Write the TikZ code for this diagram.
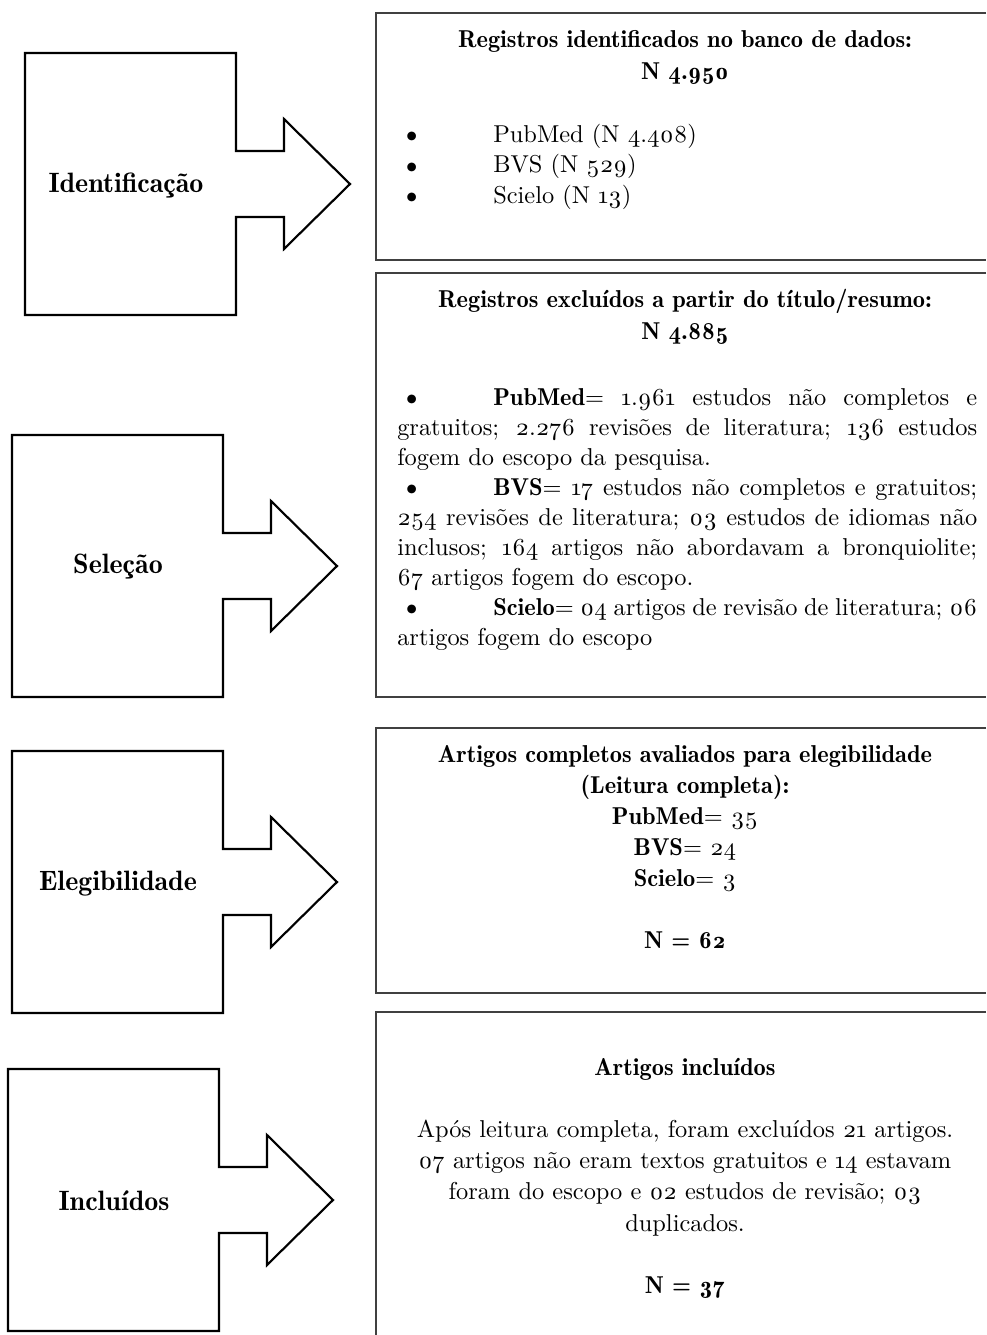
\documentclass[tikz,border=0pt]{standalone}
\usepackage{graphicx}
\usepackage{fontspec}
\setmainfont{lmroman10}[Extension=.otf, UprightFont=*-regular, BoldFont=lmromandemi10-regular, Numbers=OldStyle]

\newcommand{\boxtextfont}{\fontsize{18.3}{22.5}\selectfont\hyphenpenalty=10000\tolerance=10000}
\newcommand{\stagefont}{\fontsize{21}{25}\selectfont\bfseries}
\newcommand{\bulletbox}{\makebox[72pt][l]{\hspace{2pt}\smash{\raisebox{-0.06em}{\scalebox{1.25}{\textbullet}}}}}

\begin{document}
\begin{tikzpicture}[x=0.75pt, y=-0.75pt,
    stagearrow/.style={draw=black, line width=1.6pt},
    stagelabel/.style={font=\stagefont, inner sep=0pt},
    panel/.style={draw=black!75, line width=0.9pt},
    paneltext/.style={font=\boxtextfont, inner sep=0pt, text width=435pt}]

  \useasboundingbox (0,0) rectangle (986,1335);

  % Setas das etapas
  \draw[stagearrow] (25,53) -- (236,53) -- (236,151) -- (284,151) -- (284,119) -- (350,184)
    -- (284,249) -- (284,217) -- (236,217) -- (236,315) -- (25,315) -- cycle;
  \draw[stagearrow] (12,435) -- (223,435) -- (223,533) -- (271,533) -- (271,501) -- (337,566)
    -- (271,631) -- (271,599) -- (223,599) -- (223,697) -- (12,697) -- cycle;
  \draw[stagearrow] (12,751) -- (223,751) -- (223,849) -- (271,849) -- (271,817) -- (337,882)
    -- (271,947) -- (271,915) -- (223,915) -- (223,1013) -- (12,1013) -- cycle;
  \draw[stagearrow] (8,1069) -- (219,1069) -- (219,1167) -- (267,1167) -- (267,1135) -- (333,1200)
    -- (267,1265) -- (267,1233) -- (219,1233) -- (219,1331) -- (8,1331) -- cycle;

  \node[stagelabel] (ident) at (126,185) {Identificação};
  \node[stagelabel] (selec) at (118,567) {Seleção};
  \node[stagelabel] (eleg) at (118,884) {Elegibilidade};
  \node[stagelabel] (incl) at (114,1201) {Incluídos};

  % Quadros
  \draw[panel] (986,13) -- (376,13) -- (376,260) -- (986,260);
  \draw[panel] (986,273) -- (376,273) -- (376,697) -- (986,697);
  \draw[panel] (986,728) -- (376,728) -- (376,993) -- (986,993);
  \draw[panel] (986,1012) -- (376,1012) -- (376,1335);

  % Identificacao
  \node[paneltext, align=center, anchor=base] (idtitle) at (685,47)
    {\bfseries Registros identificados no banco de dados:\\[1.5pt] N 4.950};
  \node[paneltext, anchor=base west] (idlist) at (397,142)
    {\bulletbox PubMed (N 4.408)\\[0.5pt]
     \bulletbox BVS (N 529)\\[0.5pt]
     \bulletbox Scielo (N 13)};

  % Selecao
  \node[paneltext, align=center, anchor=base] (seltitle) at (685,307)
    {\bfseries Registros excluídos a partir do título/resumo:\\[1.5pt] N 4.885};
  \node[paneltext, align=justify, anchor=base west] (sellist) at (397,405)
    {\bulletbox\textbf{PubMed}= 1.961 estudos não completos e\linebreak
     gratuitos; 2.276 revisões de literatura; 136 estudos\linebreak
     fogem do escopo da pesquisa.\par
     \bulletbox\textbf{BVS}= 17 estudos não completos e gratuitos;\linebreak
     254 revisões de literatura; 03 estudos de idiomas não\linebreak
     inclusos; 164 artigos não abordavam a bronquiolite;\linebreak
     67 artigos fogem do escopo.\par
     \bulletbox\textbf{Scielo}= 04 artigos de revisão de literatura; 06\linebreak
     artigos fogem do escopo};

  % Elegibilidade
  \node[paneltext, align=center, anchor=base] (elegtext) at (685,762)
    {\bfseries Artigos completos avaliados para elegibilidade\\[0.75pt]
     (Leitura completa):\\[0.75pt]
     PubMed{\mdseries= 35}\\[0.75pt]
     BVS{\mdseries= 24}\\[0.75pt]
     Scielo{\mdseries= 3}\\[24pt]
     N = 62};

  % Incluidos
  \node[paneltext, align=center, anchor=base] (incltext) at (685,1075)
    {\textbf{Artigos incluídos}\\[24pt]
     Após leitura completa, foram excluídos 21 artigos.\\[1pt]
     07 artigos não eram textos gratuitos e 14 estavam\\[1pt]
     foram do escopo e 02 estudos de revisão; 03\\[1pt]
     duplicados.\\[24pt]
     \textbf{N = 37}};
\end{tikzpicture}
\end{document}
